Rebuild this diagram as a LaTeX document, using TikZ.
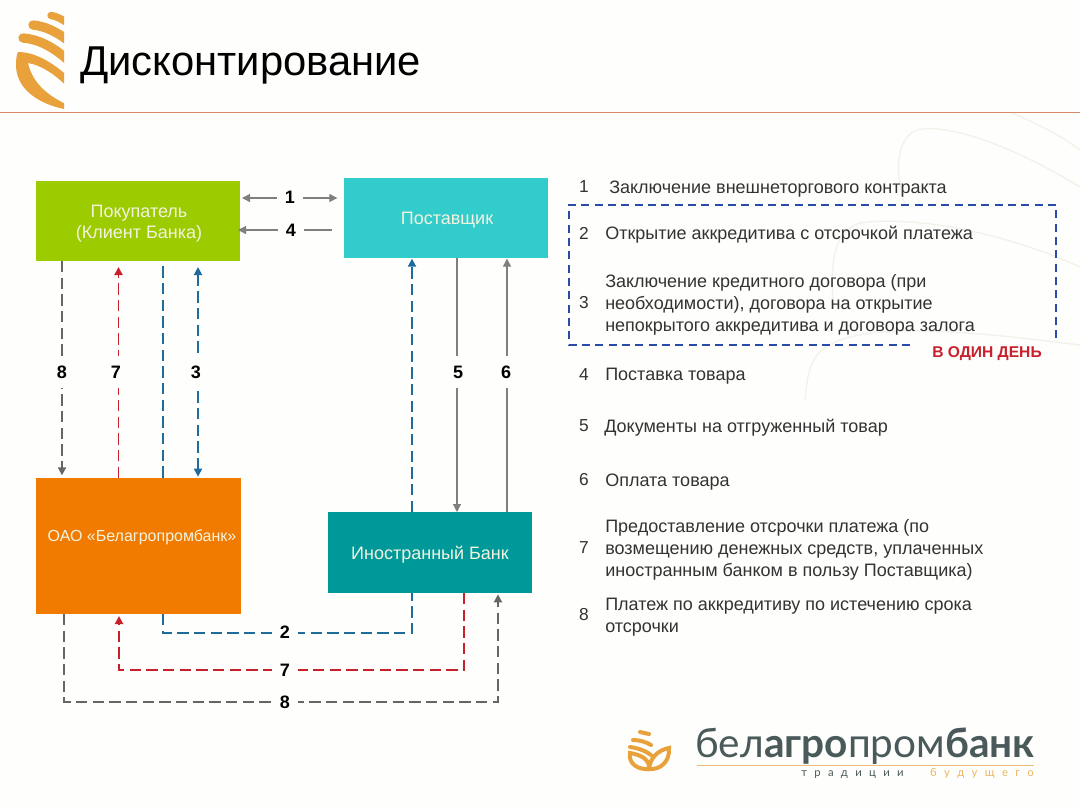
\documentclass[tikz,border=0pt]{standalone}
\usepackage{fontspec}
\setmainfont{Liberation Sans}
\newfontfamily\logof{Lato}
\usetikzlibrary{arrows.meta}
\definecolor{bgc}{HTML}{FEFEFC}
\definecolor{faintc}{HTML}{F3F2EA}
\definecolor{rulec}{HTML}{D98A68}
\definecolor{greenb}{HTML}{9CCB00}
\definecolor{cyanb}{HTML}{33CCCC}
\definecolor{orangeb}{HTML}{F07B00}
\definecolor{tealb}{HTML}{009999}
\definecolor{boxt}{HTML}{F3F3E0}
\definecolor{gold}{HTML}{E9A23B}
\definecolor{gr}{HTML}{666666}
\definecolor{grl}{HTML}{7F7F7F}
\definecolor{bl}{HTML}{1F6B9C}
\definecolor{rd}{HTML}{C8202C}
\definecolor{dbl}{HTML}{2B4BA8}
\definecolor{txt}{HTML}{333333}
\definecolor{logog}{HTML}{4A5A5A}
\newcommand{\tg}{\hspace{5.5pt}}
\tikzset{
  x=0.75pt,y=-0.75pt,
  flow/.style={inner sep=0pt,outer sep=0pt,text=boxt,align=center,font=\fontsize{13.5}{16}\selectfont},
  pane/.style={flow,rectangle},
  tipb/.style={-{Triangle[length=6pt,width=6pt]}},
  tipbb/.style={{Triangle[length=6pt,width=6pt]}-{Triangle[length=6pt,width=6pt]}},
  dsh/.style={line width=1.4pt,dash pattern=on 8.5pt off 4pt},
  thinl/.style={line width=0.9pt,color=grl},
  num/.style={fill=bgc,inner sep=0pt,minimum width=20pt,minimum height=24pt,text=black,font=\fontsize{13.5}{14}\bfseries\selectfont},
  numh/.style={num,minimum width=20pt,minimum height=15pt},
  lst/.style={anchor=west,inner sep=0pt,text=txt,align=left,font=\fontsize{13.5}{16.5}\selectfont},
  idx/.style={anchor=center,inner sep=0pt,text=txt,font=\fontsize{13}{14}\selectfont},
  band/.style={line width=7pt,color=gold,line cap=round},
  minil/.style={line width=3pt,color=gold,line cap=round},
  faint/.style={draw=faintc,line width=1pt},
}
\begin{document}
\begin{tikzpicture}
\useasboundingbox (0,0) rectangle (1080,807);
\fill[bgc] (0,0) rectangle (1080,807);
% faint background leaf
\draw[faint] (1080,187) .. controls (1020,150) and (950,122) .. (917,130) .. controls (895,138) and (895,175) .. (905,205);
\draw[faint] (1080,267) .. controls (1010,235) and (920,215) .. (860,223) .. controls (835,230) and (830,260) .. (833,300);
\draw[faint] (1080,345) .. controls (1000,335) and (880,320) .. (833,343) .. controls (815,352) and (808,362) .. (805,400);
\draw[faint] (1010,112) .. controls (1040,125) and (1060,135) .. (1080,150);
% top logo
\begin{scope}
\clip (0,0) rectangle (64,115);
\draw[band,line width=5.5pt] (51,15.5) .. controls (56,16) and (62,19) .. (70,25);
\draw[band] (33,25) .. controls (44,26) and (56,31) .. (70,42);
\draw[band] (23,38) .. controls (37,39) and (53,46) .. (70,62);
\fill[gold,even odd rule] (18,52) .. controls (35,52) and (52,62) .. (70,78) -- (70,112) -- (64,109) .. controls (40,104) and (16,90) .. (16,65) .. controls (16,58) and (17,54) .. (18,52) -- cycle
 (28,63) .. controls (40,65) and (56,74) .. (70,90) -- (70,106) .. controls (50,97) and (33,85) .. (28,63) -- cycle;
\end{scope}
\node[inner sep=0pt,anchor=base west,text=black,font=\fontsize{31.3}{34}\selectfont] (title) at (80,75) {Дисконтирование};
\coordinate (ruleL) at (0,112.5);
\coordinate (ruleR) at (1080,112.5);
\draw[rulec,line width=0.9pt] (ruleL) -- (ruleR);
% boxes
\node[pane,fill=greenb,minimum width=153pt,minimum height=60pt] (buyer) at (138,221) {};
\node[pane,fill=cyanb,minimum width=153pt,minimum height=60pt] (supplier) at (446,218) {};
\node[pane,fill=orangeb,minimum width=153.75pt,minimum height=102pt] (oao) at (138.5,546) {};
\node[pane,fill=tealb,minimum width=153pt,minimum height=60.75pt] (foreign) at (430,552.5) {};
\node[flow] (buyertext) at (139,223.5) {Покупатель\\(Клиент Банка)};
\node[flow] (suppliertext) at (447,220) {Поставщик};
\node[flow,font=\fontsize{12}{16}\selectfont] (oaotext) at (142,537) {ОАО «Белагропромбанк»};
\node[flow] (foreigntext) at (430,555) {Иностранный Банк};
% guide coordinates
\coordinate (x8) at (62,0);
\coordinate (x7) at (118.5,0);
\coordinate (x2) at (163,0);
\coordinate (x3) at (198,0);
\coordinate (xb) at (412,0);
\coordinate (x5) at (457,0);
\coordinate (x6) at (507,0);
\coordinate (y1) at (0,198);
\coordinate (y4) at (0,230);
\coordinate (c2a) at (163,633);
\coordinate (c2b) at (412,633);
\coordinate (c7a) at (464,670);
\coordinate (c7b) at (119,670);
\coordinate (c8a) at (64,702);
\coordinate (c8b) at (498,702);
% connectors
\draw[thinl,tipbb,shorten <=1.5pt,shorten >=5pt] (buyer.east |- y1) -- (supplier.west |- y1);
\draw[thinl,tipb,shorten <=9pt,shorten >=-1.5pt] (supplier.west |- y4) -- (buyer.east |- y4);
\draw[gr,dsh,tipb,shorten >=2pt] (buyer.south -| x8) -- (oao.north -| x8);
\draw[rd,dsh,tipb,shorten >=4.5pt] (oao.north -| x7) -- (buyer.south -| x7);
\draw[bl,dsh,shorten <=4pt] (buyer.south -| x2) -- (oao.north -| x2);
\draw[bl,dsh,tipbb,shorten <=4.5pt,shorten >=1pt] (buyer.south -| x3) -- (oao.north -| x3);
\draw[bl,dsh,tipb,shorten >=0.5pt] (foreign.north -| xb) -- (supplier.south -| xb);
\draw[thinl,tipb] (supplier.south -| x5) -- (foreign.north -| x5);
\draw[thinl,tipb,shorten >=0.5pt] (foreign.north -| x6) -- (supplier.south -| x6);
\draw[bl,dsh] (oao.south -| c2a) -- (c2a) -- (c2b) -- (foreign.south -| c2b);
\draw[rd,dsh,tipb,shorten >=1.5pt] (foreign.south -| c7a) -- (c7a) -- (c7b) -- (oao.south -| c7b);
\draw[gr,dsh,tipb,shorten >=1pt] (oao.south -| c8a) -- (c8a) -- (c8b) -- (foreign.south -| c8b);
% numbered labels on connectors
\node[num] (n8) at (62,372) {8};
\node[num] (n7) at (116,372) {7};
\node[num] (n3) at (196,372) {3};
\node[num] (n5) at (458,372) {5};
\node[num] (n6) at (506,372) {6};
\node[numh] (n1) at (290,197) {1};
\node[numh] (n4) at (291,230) {4};
\node[numh] (nb2) at (285,632) {2};
\node[numh] (nb7) at (285,670) {7};
\node[numh] (nb8) at (285,702) {8};
% list
\node[idx] (i1) at (584,187) {1};
\node[lst] (t1) at (609,189) {Заключение внешнеторгового контракта};
\node[idx] (i2) at (584,233.5) {2};
\node[lst] (t2) at (605,235) {Открытие аккредитива с отсрочкой платежа};
\node[idx] (i3) at (584,302.5) {3};
\node[lst] (t3) at (605,305) {Заключение кредитного договора (при\\необходимости), договора на открытие\\непокрытого аккредитива и договора залога};
\node[idx] (i4) at (584,374.5) {4};
\node[lst] (t4) at (605,376) {Поставка товара};
\node[idx] (i5) at (584,426) {5};
\node[lst] (t5) at (604,428) {Документы на отгруженный товар};
\node[idx] (i6) at (584,480) {6};
\node[lst] (t6) at (605,482) {Оплата товара};
\node[idx] (i7) at (584,548) {7};
\node[lst] (t7) at (605,550) {Предоставление отсрочки платежа (по\\возмещению денежных средств, уплаченных\\иностранным банком в пользу Поставщика)};
\node[idx] (i8) at (584,615) {8};
\node[lst] (t8) at (605,617) {Платеж по аккредитиву по истечению срока\\отсрочки};
% one-day frame
\draw[dbl,line width=1.3pt,dash pattern=on 6pt off 4pt] (910,345) -- (569,345) -- (569,205) -- (1056,205) -- (1056,338);
\node[inner sep=0pt,text=rd,font=\fontsize{11.7}{12}\bfseries\selectfont] (oneday) at (987,354) {В ОДИН ДЕНЬ};
% bottom logo
\draw[minil] (640,732) -- (649,734);
\draw[minil] (633,740) .. controls (640,740) and (646,742) .. (651,745);
\draw[minil] (630,747) .. controls (638,748) and (646,751) .. (651,755);
\draw[minil] (630,753) .. controls (628,765) and (640,770) .. (649,769) .. controls (650,760) and (642,755) .. (630,753) -- cycle;
\draw[minil] (669,748) .. controls (670,762) and (660,770) .. (649,769) .. controls (650,758) and (658,750) .. (669,748) -- cycle;
\node[inner sep=0pt,anchor=base west,text=logog,font=\fontsize{30.4}{32}\logof\selectfont] (brand) at (695,757) {бел\textbf{агро}пром\textbf{банк}};
\coordinate (brandL) at (697,765);
\coordinate (brandR) at (1034,765);
\draw[color=gold!70,line width=0.7pt] (brandL) -- (brandR);
\node[inner sep=0pt,anchor=base west,text=logog,font=\fontsize{8.5}{10}\logof\selectfont] (tag1) at (801,776) {т\tg р\tg а\tg д\tg и\tg ц\tg и\tg и};
\node[inner sep=0pt,anchor=base east,text=gold!80,font=\fontsize{8.5}{10}\logof\selectfont] (tag2) at (1034,776) {б\tg у\tg д\tg у\tg щ\tg е\tg г\tg о};
\end{tikzpicture}
\end{document}
